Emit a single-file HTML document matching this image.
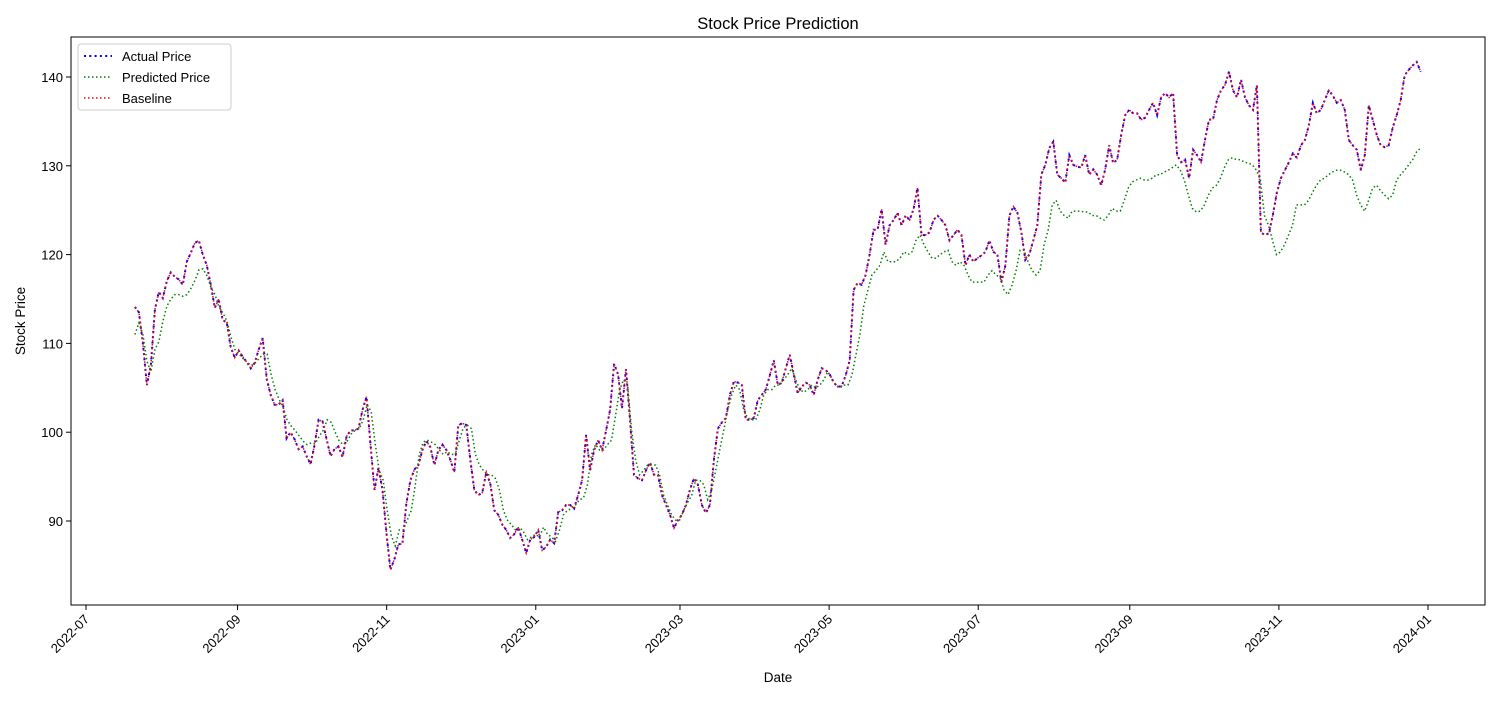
<!DOCTYPE html>
<html><head><meta charset="utf-8"><style>
body{margin:0;background:#fff;}
svg text{font-family:"Liberation Sans","DejaVu Sans",sans-serif;fill:#000;}
</style></head><body>
<svg id="chart" width="1500" height="700" xmlns="http://www.w3.org/2000/svg">
<rect width="1500" height="700" fill="#fff"/>
<text x="778" y="29" font-size="16.5" text-anchor="middle">Stock Price Prediction</text>
<g id="plot"></g>
<rect x="71" y="37" width="1414" height="568" fill="none" stroke="#000" stroke-width="1"/>
<text x="778" y="682" font-size="13.5" text-anchor="middle">Date</text>
<text x="0" y="0" font-size="13.5" text-anchor="middle" transform="translate(25,321) rotate(-90)">Stock Price</text>
<g>
<rect x="78" y="44" width="153" height="66" rx="3" fill="#fff" fill-opacity="0.8" stroke="#ccc"/>
<g><line x1="84" y1="56" x2="112" y2="56" stroke="blue" stroke-width="2" stroke-dasharray="2,3.3"/><text x="122" y="61" font-size="13">Actual Price</text></g>
<g><line x1="84" y1="77" x2="112" y2="77" stroke="green" stroke-width="1.5" stroke-dasharray="1.5,2.5"/><text x="122" y="82" font-size="13">Predicted Price</text></g>
<g><line x1="84" y1="98" x2="112" y2="98" stroke="red" stroke-width="1.5" stroke-dasharray="1.5,2.5"/><text x="122" y="103" font-size="13">Baseline</text></g>
</g>
</svg>
<script>
const dateStart = '2022-07-21';
const dateEnd = '2023-12-29';
const xTickLabels = ['2022-07','2022-09','2022-11','2023-01','2023-03','2023-05','2023-07','2023-09','2023-11','2024-01'];
const yTickValues = [90,100,110,120,130,140];
const actualValues = [114.1,113.5,110,105.3,107.6,113.8,115.8,115.1,117,118,117.5,117.2,116.6,119.2,120.2,121.3,121.6,120,118.8,116.6,114,115,112.6,112.4,109.6,108.4,109.2,108.5,107.9,107.2,107.8,109.3,110.6,106,104.2,103.1,103.1,103.6,99.3,100,99.2,98.1,98.4,97.3,96.4,98.6,101.4,101.2,99.2,97.3,98.1,98.4,97.2,99.5,100.2,100.2,100.4,102.5,104,98.6,93.5,96,93.5,88.6,84.5,85.7,87.4,87.4,92,94.6,95.8,96.3,98,99,98.3,
96.3,98.0,98.6,98.0,96.9,95.5,100.8,101,100.8,96.9,93.5,92.9,93.2,95.5,94.2,91.2,90.7,89.6,89,88.1,88.5,89.3,87.9,86.4,87.9,88.2,89,86.7,87.1,87.9,87.5,91,91.2,91.8,91.8,91.4,92.9,94.6,99.7,95.7,98,99.1,98,100.2,102.5,107.7,106.5,102.7,107.1,101.4,95.2,94.8,94.6,95.7,96.6,95.2,95.2,92.9,91.8,90.7,89.2,90.1,90.7,91.8,93.5,94.8,94.1,91.8,90.9,91.8,96.9,100.4,101.1,101.6,104.2,105.7,105.6,105.3,101.4,101.4,101.6,103.6,104.2,104.8,106.4,108.1,105.3,105.6,107.2,108.7,106.5,104.4,105.1,105.6,105.3,104.2,105.9,107.2,107.0,106.5,105.6,105.1,105.2,106.4,108.1,116.0,116.8,116.6,117.7,120,122.8,122.8,125.1,121.1,123.3,123.9,124.7,123.3,124.4,123.9,125.1,127.5,122.2,122.2,122.5,123.9,124.4,123.9,123.3,121.6,122.2,122.8,122.2,118.8,120,119.2,119.6,119.9,120.3,121.6,120.3,120,116.9,118.8,124.4,125.4,124.7,122.5,119.4,120,121.6,123.3,129,130.1,132,132.7,129,128.6,128.1,131.2,130.1,129.9,129.8,131.2,129,129.6,129,127.8,129.6,132.3,130.3,130.7,133.5,135.7,136.3,135.9,135.9,135.2,135.4,136.3,137.1,135.7,137.7,138.2,137.7,138.2,131.2,130.4,130.7,128.6,131.8,131.2,130.4,132.9,135.2,135.2,137.4,138.5,139.1,140.6,138.5,137.7,139.7,137.7,136.8,136.3,139.1,122.5,122.2,122.4,124.5,127,128.6,129.5,130.4,131.4,130.9,132.3,132.9,134.6,137.1,135.9,136.3,137.4,138.5,137.9,137.1,137.4,136.3,132.9,132.3,131.8,129.5,131.2,136.8,135.2,133.5,132.3,132.1,132.3,134.3,135.7,137.4,140.2,140.8,141.3,141.7,140.6];
const predictedValues = [111,112.3,111,108,106.8,109.3,110.2,112.5,114.2,115,115.5,115.5,115.3,115.5,116.2,117.1,118.3,118.4,117.6,116.3,115.5,114.1,113.4,112.5,110.7,109.3,108.8,108.3,107.9,107.5,107.8,108.3,108.8,108.8,106.5,104.8,103.7,102.8,101.4,100.7,100.2,99.6,99,98.6,98.8,98.7,99.5,100.2,101.4,101.1,100,99,98.6,99,99.8,
100.2,100.4,101.4,103.1,102.3,98.7,
95.7,94.6,91.2,88.4,87.2,89,89,90.1,91.2,94.1,97.5,98.9,99.1,98.9,98.6,98,97.5,97.8,97.5,97.5,99.1,100.5,100.8,100.4,97.5,96.3,95.7,95.2,95.2,94.8,93.5,91.2,90.1,89.6,89,89.3,88.8,87.9,88.2,88.5,88.2,89.3,88.5,88.2,87.7,89,90.7,91.2,91.4,91.8,92.4,92.6,94.1,97.5,98.6,98,98,98.6,99.1,101.9,104.8,105.9,105.3,100.2,96.9,95.2,95.7,96.3,96.3,96.3,95.2,92.9,91.8,90.7,90.1,90.1,91.2,92.1,92.9,94.6,94.6,94.1,92.4,93.5,95.7,98,100.2,102.5,104.2,105.3,104.8,102.5,101.6,101.4,101.4,102.5,104.2,104.8,104.8,105.3,105.3,105.9,106.5,107.2,105.9,104.8,104.5,104.8,105.3,105,105.3,105.9,106.8,106.1,105.3,105.0,105.3,105.3,106.4,108.7,111,114.3,116,117.7,118.2,118.8,120.3,119.2,119.2,119.2,119.6,120.3,120,120.3,121.6,122.2,121.1,120.3,119.6,119.6,120,120.3,120.5,119.2,118.8,119.2,118.8,117.7,116.9,116.9,116.9,116.9,117.7,118.2,117.7,117.4,116,115.5,116.6,118.2,120.5,120.5,119.2,118.2,117.7,118.2,121.1,122.8,125.6,126.1,124.9,124.4,124.1,124.9,124.9,124.9,124.8,124.8,124.4,124.4,124.1,123.9,124.4,125.2,124.9,124.9,126.1,127.5,128.2,128.4,128.6,128.4,128.4,128.6,129,129,129.3,129.5,129.8,130.1,129.5,128.4,126.7,125.2,124.8,124.9,125.6,126.7,127.5,127.8,128.6,129.8,130.7,130.9,130.7,130.7,130.4,130.3,130.1,129.5,128.4,124.4,123.3,121.6,120,120.3,121.1,122.2,123.3,125.6,125.6,125.6,126.1,127,127.8,128.4,128.6,129,129.3,129.5,129.5,129.3,129,128.4,126.7,125.6,124.9,126.1,127.5,127.8,127.2,126.7,126.3,126.7,128.4,129,129.5,130.1,130.7,131.6,132];
const baselineValues = actualValues.slice();

const NS='http://www.w3.org/2000/svg';
const DAY=86400000;
const origin=Date.UTC(2022,6,1);
function dayOf(s){const p=s.split('-').map(Number);return (Date.UTC(p[0],p[1]-1,p[2]||1)-origin)/DAY;}
function xScale(d){return 86+d*(1342/549);}
function yScale(v){return 77+(140-v)*8.88;}
function seriesDays(n){const a=dayOf(dateStart),b=dayOf(dateEnd);const out=[];for(let i=0;i<n;i++)out.push(a+(b-a)*i/(n-1));return out;}
const plot=document.getElementById('plot');
const svg=document.getElementById('chart');
function mk(tag,attrs,parent){const e=document.createElementNS(NS,tag);for(const k in attrs)e.setAttribute(k,attrs[k]);(parent||svg).appendChild(e);return e;}
yTickValues.forEach(v=>{const y=yScale(v);
 const t=mk('line',{x1:66,x2:71,y1:y,y2:y,stroke:'#000'});
 
 
 const l=mk('text',{x:63,y:y+5,'font-size':13,'text-anchor':'end'});l.textContent=v;
 
 
});
xTickLabels.forEach(s=>{const x=xScale(dayOf(s));
 const t=mk('line',{x1:x,x2:x,y1:605,y2:610,stroke:'#000'});
 
 
 const l=mk('text',{x:0,y:0,'font-size':13,'text-anchor':'end',transform:`translate(${x+4},${620}) rotate(-45)`});l.textContent=s;
 
 
});
function drawLine(vals,color,w,dash,name){
 const ds=seriesDays(vals.length);
 const pts=vals.map((v,i)=>xScale(ds[i]).toFixed(1)+','+yScale(v).toFixed(1)).join(' ');
 const p=mk('polyline',{points:pts,fill:'none',stroke:color,'stroke-width':w,'stroke-dasharray':dash},plot);
 
 
}
drawLine(actualValues,'blue',2,'2,3.3','actual-price-line');
drawLine(predictedValues,'green',1.5,'1.5,2.5','predicted-price-line');
drawLine(baselineValues,'red',1.5,'1.5,2.5','baseline-line');
</script>
</body></html>
